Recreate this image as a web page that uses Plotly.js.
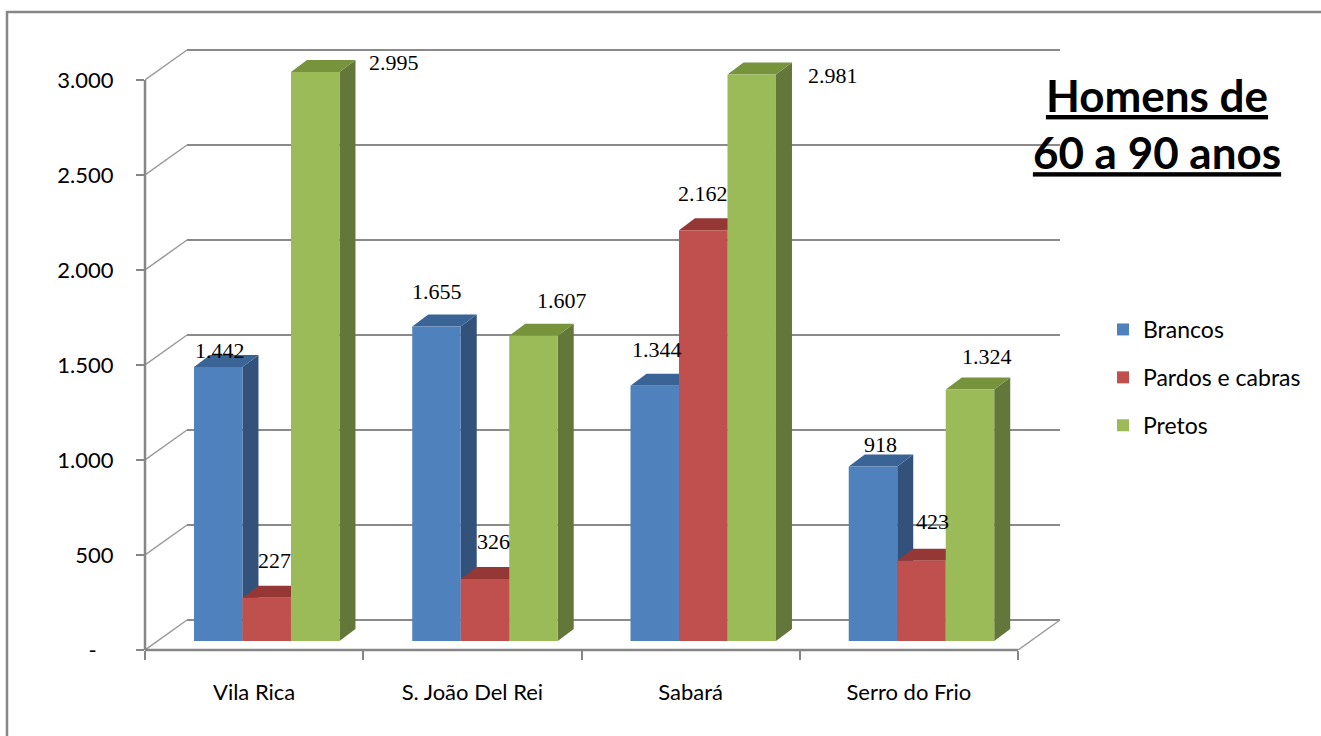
<!DOCTYPE html>
<html>
<head>
<meta charset="utf-8">
<script src="https://cdn.plot.ly/plotly-3.0.1.min.js"></script>
<style>
  html, body { margin: 0; padding: 0; background: #fff; }
  #chart { width: 1321px; height: 736px; }
</style>
</head>
<body>
<div id="chart"></div>
<script>
// Men aged 60 to 90, by town and group
const towns = ['Vila Rica', 'S. João Del Rei', 'Sabará', 'Serro do Frio'];
const brancos = [1442, 1655, 1344, 918];
const pardos = [227, 326, 2162, 423];
const pretos = [2995, 1607, 2981, 1324];
const seriesNames = ['Brancos', 'Pardos e cabras', 'Pretos'];
const yTickVals = [0, 500, 1000, 1500, 2000, 2500, 3000];
const yTickText = ['-\u00a0\u00a0\u00a0', '500', '1.000', '1.500', '2.000', '2.500', '3.000'];

// Colours of the three faces of each column
const frontColors = ['#4F81BD', '#C0504D', '#9BBB59'];
const topColors = ['#3A6496', '#953735', '#77933C'];
const sideColors = ['#32527B', '#7F2E2C', '#64773A'];

// Value label nudges in px [right, down], per series and town
const labelNudge = [
  [[2, -17], [1, -35], [2, -36], [8, -22]],
  [[8, -37], [9, -38], [0, -37], [11, -39]],
  [[79, -9], [29, -35], [81, 1], [17, -33]]
];

const seriesValues = [brancos, pardos, pretos];

// Oblique 3-D geometry (all in px), converted into axis units below
const W = 1321, H = 736;
const L = 145, B = 650;          // front-plane origin
const CW = 218.25;               // width of one town slot
const K = 0.19;                  // px per unit of value
const DX = 42, DY = 30;          // depth of floor and side wall
const FX = 12.6, FY = 9;         // front face of the columns
const BX = 16, BY = 12;          // depth of a column
const PAD = 2;
const nCat = towns.length;
const yTop = yTickVals[yTickVals.length - 1];
const R = L + CW * nCat + DX + PAD;
const T = B - yTop * K - DY - PAD;

const ux = px => px / CW;
const uy = px => px / K;
const paperX = px => (px - L) / (R - L);
const paperY = px => (B - px) / (B - T);

const xMin = -0.5, xMax = -0.5 + (R - L) / CW;
const yMax = (B - T) / K;
const barW = (2 / 3) / seriesNames.length;

const fmt = v => String(v).replace(/\B(?=(\d{3})+(?!\d))/g, '.');
const catIdx = towns.map((_, i) => i);

const gridColor = '#8a8a8a';
const axisColor = '#868686';
const font = 'Lato, "Open Sans", sans-serif';

const shapes = [];

// outer chart frame
shapes.push({
  type: 'rect', xref: 'paper', yref: 'paper',
  x0: paperX(7), x1: paperX(W + 20), y0: paperY(H + 20), y1: paperY(12),
  line: { color: axisColor, width: 2.5 }, fillcolor: 'rgba(0,0,0,0)', layer: 'below'
});

// back wall gridlines and side-wall diagonals
yTickVals.forEach(v => {
  shapes.push({
    type: 'line', xref: 'x', yref: 'y', layer: 'below',
    x0: xMin + ux(DX), x1: xMin + nCat * 1 + ux(DX), y0: v + uy(DY), y1: v + uy(DY),
    line: { color: gridColor, width: 2 }
  });
  shapes.push({
    type: 'line', xref: 'x', yref: 'y', layer: 'below',
    x0: xMin, x1: xMin + ux(DX), y0: v, y1: v + uy(DY),
    line: { color: '#9a9a9a', width: 1.5 }
  });
});
// right edge of the floor
shapes.push({
  type: 'line', xref: 'x', yref: 'y', layer: 'below',
  x0: xMin + nCat, x1: xMin + nCat + ux(DX), y0: 0, y1: uy(DY),
  line: { color: '#9a9a9a', width: 1.5 }
});
// front axis lines
shapes.push({
  type: 'line', xref: 'paper', yref: 'y', layer: 'above',
  x0: 0, x1: 0, y0: 0, y1: yTop,
  line: { color: axisColor, width: 2.5 }
});
shapes.push({
  type: 'line', xref: 'x', yref: 'paper', layer: 'above',
  x0: xMin, x1: xMin + nCat, y0: 0, y1: 0,
  line: { color: axisColor, width: 2.5 }
});

// side and top faces of the columns, series by series
const annotations = [];
seriesValues.forEach((vals, s) => {
  vals.forEach((v, i) => {
    const x0 = i - 1 / 3 + s * barW + ux(FX);
    const x1 = x0 + barW;
    const y0 = uy(FY);
    const y1 = v + uy(FY);
    const bx = ux(BX), by = uy(BY);
    shapes.push({
      type: 'path', xref: 'x', yref: 'y', layer: 'below',
      path: `M${x1},${y0} L${x1 + bx},${y0 + by} L${x1 + bx},${y1 + by} L${x1},${y1} Z`,
      fillcolor: sideColors[s], line: { width: 0 }
    });
    shapes.push({
      type: 'path', xref: 'x', yref: 'y', layer: 'below',
      path: `M${x0},${y1} L${x1},${y1} L${x1 + bx},${y1 + by} L${x0 + bx},${y1 + by} Z`,
      fillcolor: topColors[s], line: { width: 0 }
    });
    annotations.push({
      xref: 'x', yref: 'y', x: x0 + barW / 2, y: y1,
      xanchor: 'center', yanchor: 'middle',
      xshift: labelNudge[s][i][0], yshift: -labelNudge[s][i][1],
      text: fmt(v), showarrow: false,
      font: { family: '"Liberation Serif", "DejaVu Serif", serif', size: 22, color: '#000' }
    });
  });
});

// front faces of the columns
const traces = seriesValues.map((vals, s) => ({
  type: 'bar',
  name: seriesNames[s],
  legendgroup: seriesNames[s],
  x: catIdx,
  y: vals,
  base: uy(FY),
  width: barW,
  offset: -1 / 3 + s * barW + ux(FX),
  marker: { color: frontColors[s], line: { width: 0 } },
  hovertemplate: '%{fullData.name}: %{y}<extra></extra>'
}));

const layout = {
  width: W, height: H,
  margin: { l: L, r: W - R, t: T, b: H - B, autoexpand: false },
  paper_bgcolor: '#fff', plot_bgcolor: '#fff',
  barmode: 'overlay',
  showlegend: true,
  title: {
    text: '<b>Homens de<br>60 a 90 anos</b>',
    font: { family: font, size: 44, color: '#000', lineposition: 'under' },
    xref: 'container', yref: 'container',
    x: 1157 / W, xanchor: 'center',
    y: 1 - 112 / H, yanchor: 'top'
  },
  legend: {
    xref: 'container', yref: 'container',
    x: 1103 / W, y: 1 - 308 / H, xanchor: 'left', yanchor: 'top',
    font: { family: font, size: 23, color: '#000' },
    tracegroupgap: 15, itemwidth: 30, bgcolor: 'rgba(0,0,0,0)'
  },
  xaxis: {
    type: 'linear', range: [xMin, xMax], fixedrange: true,
    tickmode: 'array', tickvals: catIdx, ticktext: towns,
    ticks: '', showgrid: false, zeroline: false, showline: false,
    tickfont: { family: font, size: 22, color: '#000' },
    ticklabelstandoff: 27,
    minor: {
      tickmode: 'array',
      tickvals: towns.map((_, i) => i - 0.5).concat([nCat - 0.5]),
      ticks: 'outside', ticklen: 9, tickwidth: 2, tickcolor: axisColor, showgrid: false
    }
  },
  yaxis: {
    type: 'linear', range: [0, yMax], fixedrange: true,
    tickmode: 'array', tickvals: yTickVals, ticktext: yTickText,
    ticks: 'outside', ticklen: 8, tickwidth: 2, tickcolor: axisColor,
    showgrid: false, zeroline: false, showline: false,
    tickfont: { family: font, size: 22, color: '#000' },
    ticklabelstandoff: 18
  },
  shapes: shapes,
  annotations: annotations
};

Plotly.newPlot('chart', traces, layout, { displayModeBar: false, staticPlot: true });
</script>
</body>
</html>
